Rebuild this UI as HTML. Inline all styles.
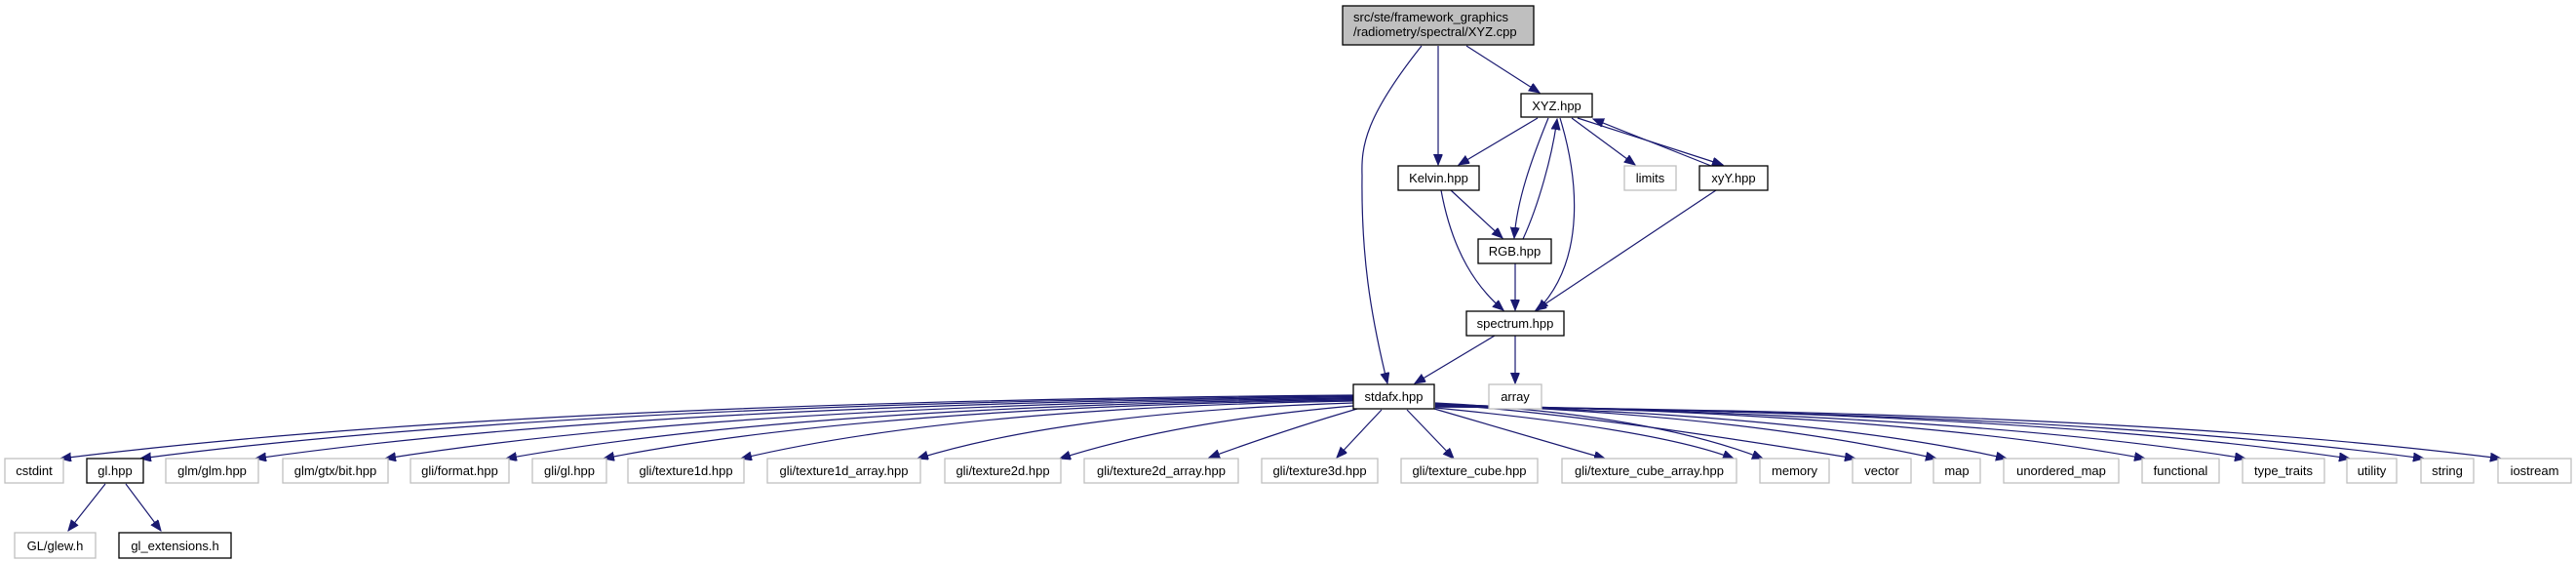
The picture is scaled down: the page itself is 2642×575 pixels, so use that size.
<!DOCTYPE html>
<html><head><meta charset="utf-8"><style>
html,body{margin:0;padding:0;background:#fff;}
svg{display:block;}
text{font-family:"Liberation Sans",Arial,sans-serif;font-size:13px;fill:#000;}
.n{fill:#fff;stroke:#000;stroke-width:1.3;}
.g{fill:#fff;stroke:#bfbfbf;stroke-width:1.3;}
.e{fill:none;stroke:#191970;stroke-width:1.2;marker-end:url(#a);}
</style></head><body>
<svg width="2642" height="575" viewBox="0 0 2642 575" xmlns="http://www.w3.org/2000/svg">
<defs><marker id="a" markerUnits="userSpaceOnUse" markerWidth="12" markerHeight="10" refX="11" refY="4.5" orient="auto"><path d="M0,0 L11,4.5 L0,9 z" fill="#191970" stroke="#191970"/></marker></defs>

<!-- top edges -->
<path class="e" d="M1458,47 C1400,120 1396,150 1397,180 C1396,260 1405,320 1423,393"/>
<path class="e" d="M1475,47 L1475,169"/>
<path class="e" d="M1504,47 L1579,95"/>
<path class="e" d="M1577,121 L1496,169"/>
<path class="e" d="M1588,121 C1570,165 1556,205 1553,244"/>
<path class="e" d="M1562,245 C1578,210 1592,160 1597,122"/>
<path class="e" d="M1600,121 C1618,180 1628,265 1577,318"/>
<path class="e" d="M1612,121 L1677,169"/>
<path class="e" d="M1618,121 L1767,169"/>
<path class="e" d="M1755,170 L1634,122"/>
<path class="e" d="M1488,195 L1541,244"/>
<path class="e" d="M1478,195 C1490,260 1515,295 1542,318"/>
<path class="e" d="M1554,270 L1554,318"/>
<path class="e" d="M1760,195 L1575,318"/>
<path class="e" d="M1533,344 L1451,393"/>
<path class="e" d="M1554,344 L1554,393"/>

<!-- stdafx edges -->
<path class="e" d="M1388,405 Q526,412 62,470"/>
<path class="e" d="M1388,406 Q579,413 144,470"/>
<path class="e" d="M1388,407 Q656,414 262,470"/>
<path class="e" d="M1388,408 Q743,415 395,470"/>
<path class="e" d="M1388,409 Q823,416 519,470"/>
<path class="e" d="M1388,410 Q888,417 619,470"/>
<path class="e" d="M1388,411 Q980,418 760,470"/>
<path class="e" d="M1388,413 Q1097,422 941,470"/>
<path class="e" d="M1388,416 Q1206,432 1087,470"/>
<path class="e" d="M1392,419 Q1320,440 1240,469"/>
<path class="e" d="M1417,420 L1371,469"/>
<path class="e" d="M1443,420 L1491,470"/>
<path class="e" d="M1471,419 L1646,470"/>
<path class="e" d="M1472,418 Q1700,440 1778,470"/>
<path class="e" d="M1472,413 Q1690,424 1808,470"/>
<path class="e" d="M1472,414 Q1624,424 1903,470"/>
<path class="e" d="M1472,414 Q1778,424 1986,470"/>
<path class="e" d="M1472,415 Q1853,424 2058,470"/>
<path class="e" d="M1472,415 Q1945,423 2200,470"/>
<path class="e" d="M1472,416 Q2012,423 2303,470"/>
<path class="e" d="M1472,416 Q2082,422 2410,470"/>
<path class="e" d="M1472,417 Q2131,422 2486,470"/>
<path class="e" d="M1472,417 Q2183,421 2565,470"/>
<!-- gl.hpp edges -->
<path class="e" d="M108,496 L70,544"/>
<path class="e" d="M129,496 L165,544"/>

<!-- nodes -->
<rect x="1377" y="6" width="196" height="40" fill="#bfbfbf" stroke="#000" stroke-width="1.3"/>
<text x="1388" y="22">src/ste/framework_graphics</text>
<text x="1388" y="37">/radiometry/spectral/XYZ.cpp</text>

<rect class="n" x="1560" y="96" width="73" height="24"/><text x="1596.5" y="113" text-anchor="middle">XYZ.hpp</text>
<rect class="n" x="1434" y="170" width="83" height="25"/><text x="1475.5" y="187" text-anchor="middle">Kelvin.hpp</text>
<rect class="g" x="1666" y="170" width="53" height="25"/><text x="1692.5" y="187" text-anchor="middle">limits</text>
<rect class="n" x="1743" y="170" width="70" height="25"/><text x="1778" y="187" text-anchor="middle">xyY.hpp</text>
<rect class="n" x="1516" y="245" width="75" height="25"/><text x="1553.5" y="262" text-anchor="middle">RGB.hpp</text>
<rect class="n" x="1504" y="319" width="100" height="25"/><text x="1554" y="336" text-anchor="middle">spectrum.hpp</text>
<rect class="n" x="1388" y="394" width="83" height="25"/><text x="1429.5" y="411" text-anchor="middle">stdafx.hpp</text>
<rect class="g" x="1527" y="394" width="54" height="25"/><text x="1554" y="411" text-anchor="middle">array</text>

<g text-anchor="middle">
<rect class="g" x="5" y="470" width="60" height="25"/><text x="35" y="487">cstdint</text>
<rect class="n" x="89" y="470" width="58" height="25"/><text x="118" y="487">gl.hpp</text>
<rect class="g" x="170" y="470" width="95" height="25"/><text x="217.5" y="487">glm/glm.hpp</text>
<rect class="g" x="290" y="470" width="108" height="25"/><text x="344" y="487">glm/gtx/bit.hpp</text>
<rect class="g" x="421" y="470" width="101" height="25"/><text x="471.5" y="487">gli/format.hpp</text>
<rect class="g" x="546" y="470" width="76" height="25"/><text x="584" y="487">gli/gl.hpp</text>
<rect class="g" x="644" y="470" width="119" height="25"/><text x="703.5" y="487">gli/texture1d.hpp</text>
<rect class="g" x="787" y="470" width="157" height="25"/><text x="865.5" y="487">gli/texture1d_array.hpp</text>
<rect class="g" x="969" y="470" width="119" height="25"/><text x="1028.5" y="487">gli/texture2d.hpp</text>
<rect class="g" x="1112" y="470" width="158" height="25"/><text x="1191" y="487">gli/texture2d_array.hpp</text>
<rect class="g" x="1294" y="470" width="119" height="25"/><text x="1353.5" y="487">gli/texture3d.hpp</text>
<rect class="g" x="1437" y="470" width="140" height="25"/><text x="1507" y="487">gli/texture_cube.hpp</text>
<rect class="g" x="1602" y="470" width="179" height="25"/><text x="1691.5" y="487">gli/texture_cube_array.hpp</text>
<rect class="g" x="1805" y="470" width="71" height="25"/><text x="1840.5" y="487">memory</text>
<rect class="g" x="1900" y="470" width="60" height="25"/><text x="1930" y="487">vector</text>
<rect class="g" x="1983" y="470" width="48" height="25"/><text x="2007" y="487">map</text>
<rect class="g" x="2055" y="470" width="118" height="25"/><text x="2114" y="487">unordered_map</text>
<rect class="g" x="2197" y="470" width="79" height="25"/><text x="2236.5" y="487">functional</text>
<rect class="g" x="2300" y="470" width="84" height="25"/><text x="2342" y="487">type_traits</text>
<rect class="g" x="2407" y="470" width="51" height="25"/><text x="2432.5" y="487">utility</text>
<rect class="g" x="2483" y="470" width="54" height="25"/><text x="2510" y="487">string</text>
<rect class="g" x="2562" y="470" width="75" height="25"/><text x="2599.5" y="487">iostream</text>
<rect class="g" x="15" y="546" width="83" height="26"/><text x="56.5" y="564">GL/glew.h</text>
<rect class="n" x="122" y="546" width="115" height="26"/><text x="179.5" y="564">gl_extensions.h</text>
</g>
</svg>
</body></html>
